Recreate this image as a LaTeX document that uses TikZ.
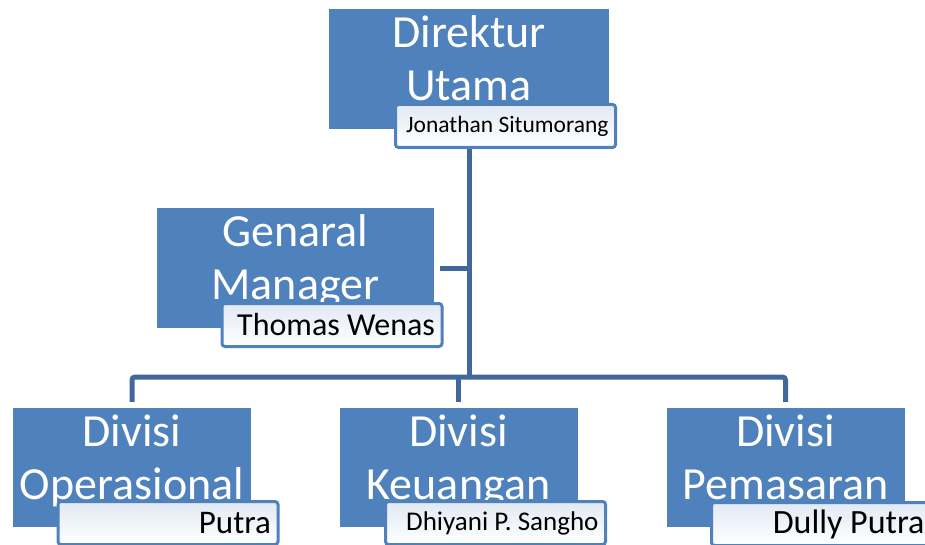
\documentclass[tikz,border=0pt]{standalone}
\usepackage{fontspec}
\setmainfont{Carlito}
\usetikzlibrary{positioning}
\usetikzlibrary{backgrounds}
\definecolor{boxblue}{RGB}{79,129,189}
\definecolor{lineblue}{RGB}{65,103,155}
\definecolor{paleblue}{RGB}{226,233,244}

\begin{document}
\begin{tikzpicture}
        [x=1pt,y=-1pt,
         unit/.style={fill=boxblue, inner sep=0pt, minimum width=238pt, minimum height=119pt},
         title/.style={anchor=north, inner sep=0pt, text=white, align=center, font=\fontsize{46}{53}\selectfont},
         namebox/.style={draw=boxblue, line width=3pt, rounded corners=3pt, top color=paleblue, bottom color=white,
                         minimum height=43pt, inner xsep=7pt, inner ysep=0pt, text width=206pt, align=flush right},
         conn/.style={draw=lineblue, line width=5pt}]
      \useasboundingbox (0,0) rectangle (925,545);
      \node[unit, minimum width=280pt, minimum height=120pt] (dirut) at (469,69) {};
      \node[unit, minimum width=277pt, minimum height=120pt] (gm) at (295.5,268) {};
      \node[unit]  (opr)  at (132,467.5) {};
      \node[unit]  (keu)  at (458.5,467.5) {};
      \node[unit]  (pms)  at (785.5,467.5) {};
      \node[title] (dirutT) at ([yshift=-7pt]dirut.north) {Direktur\\Utama};
      \node[title] (gmT)    at ([yshift=-7pt]gm.north) {Genaral\\Manager};
      \node[title] (oprT)   at ([yshift=-7pt]opr.north) {Divisi\\Operasional};
      \node[title] (keuT)   at ([yshift=-7pt]keu.north) {Divisi\\Keuangan};
      \node[title] (pmsT)   at ([yshift=-7pt]pms.north) {Divisi\\Pemasaran};
      \node[namebox, font=\fontsize{23.5}{28}\selectfont] (jonathan) at (505.5,126) {Jonathan Situmorang};
      \node[namebox, font=\fontsize{32}{36}\selectfont] (thomas)   at (332,325)   {Thomas Wenas};
      \node[namebox, font=\fontsize{33}{37}\selectfont] (putra)    at (168,523)   {Putra};
      \node[namebox, font=\fontsize{27}{30}\selectfont] (dhiyani)  at (495.5,523) {Dhiyani P. Sangho};
      \node[namebox, font=\fontsize{34}{38}\selectfont] (dully)    at (821.5,524) {Dully Putra};
      \coordinate (bar) at (469,377);
      \begin{scope}[on background layer]
      \draw[conn] (dirut.south) -- (bar);
      \draw[conn] ([xshift=6pt]gm.east) -- (gm.east -| bar);
      \draw[conn, rounded corners=3pt] ([yshift=6pt]opr.north) |- (bar) -| ([yshift=6pt]pms.north);
      \draw[conn] ([yshift=6pt]keu.north) -- (keu.north |- bar);
      \end{scope}
      \end{tikzpicture}
\end{document}
